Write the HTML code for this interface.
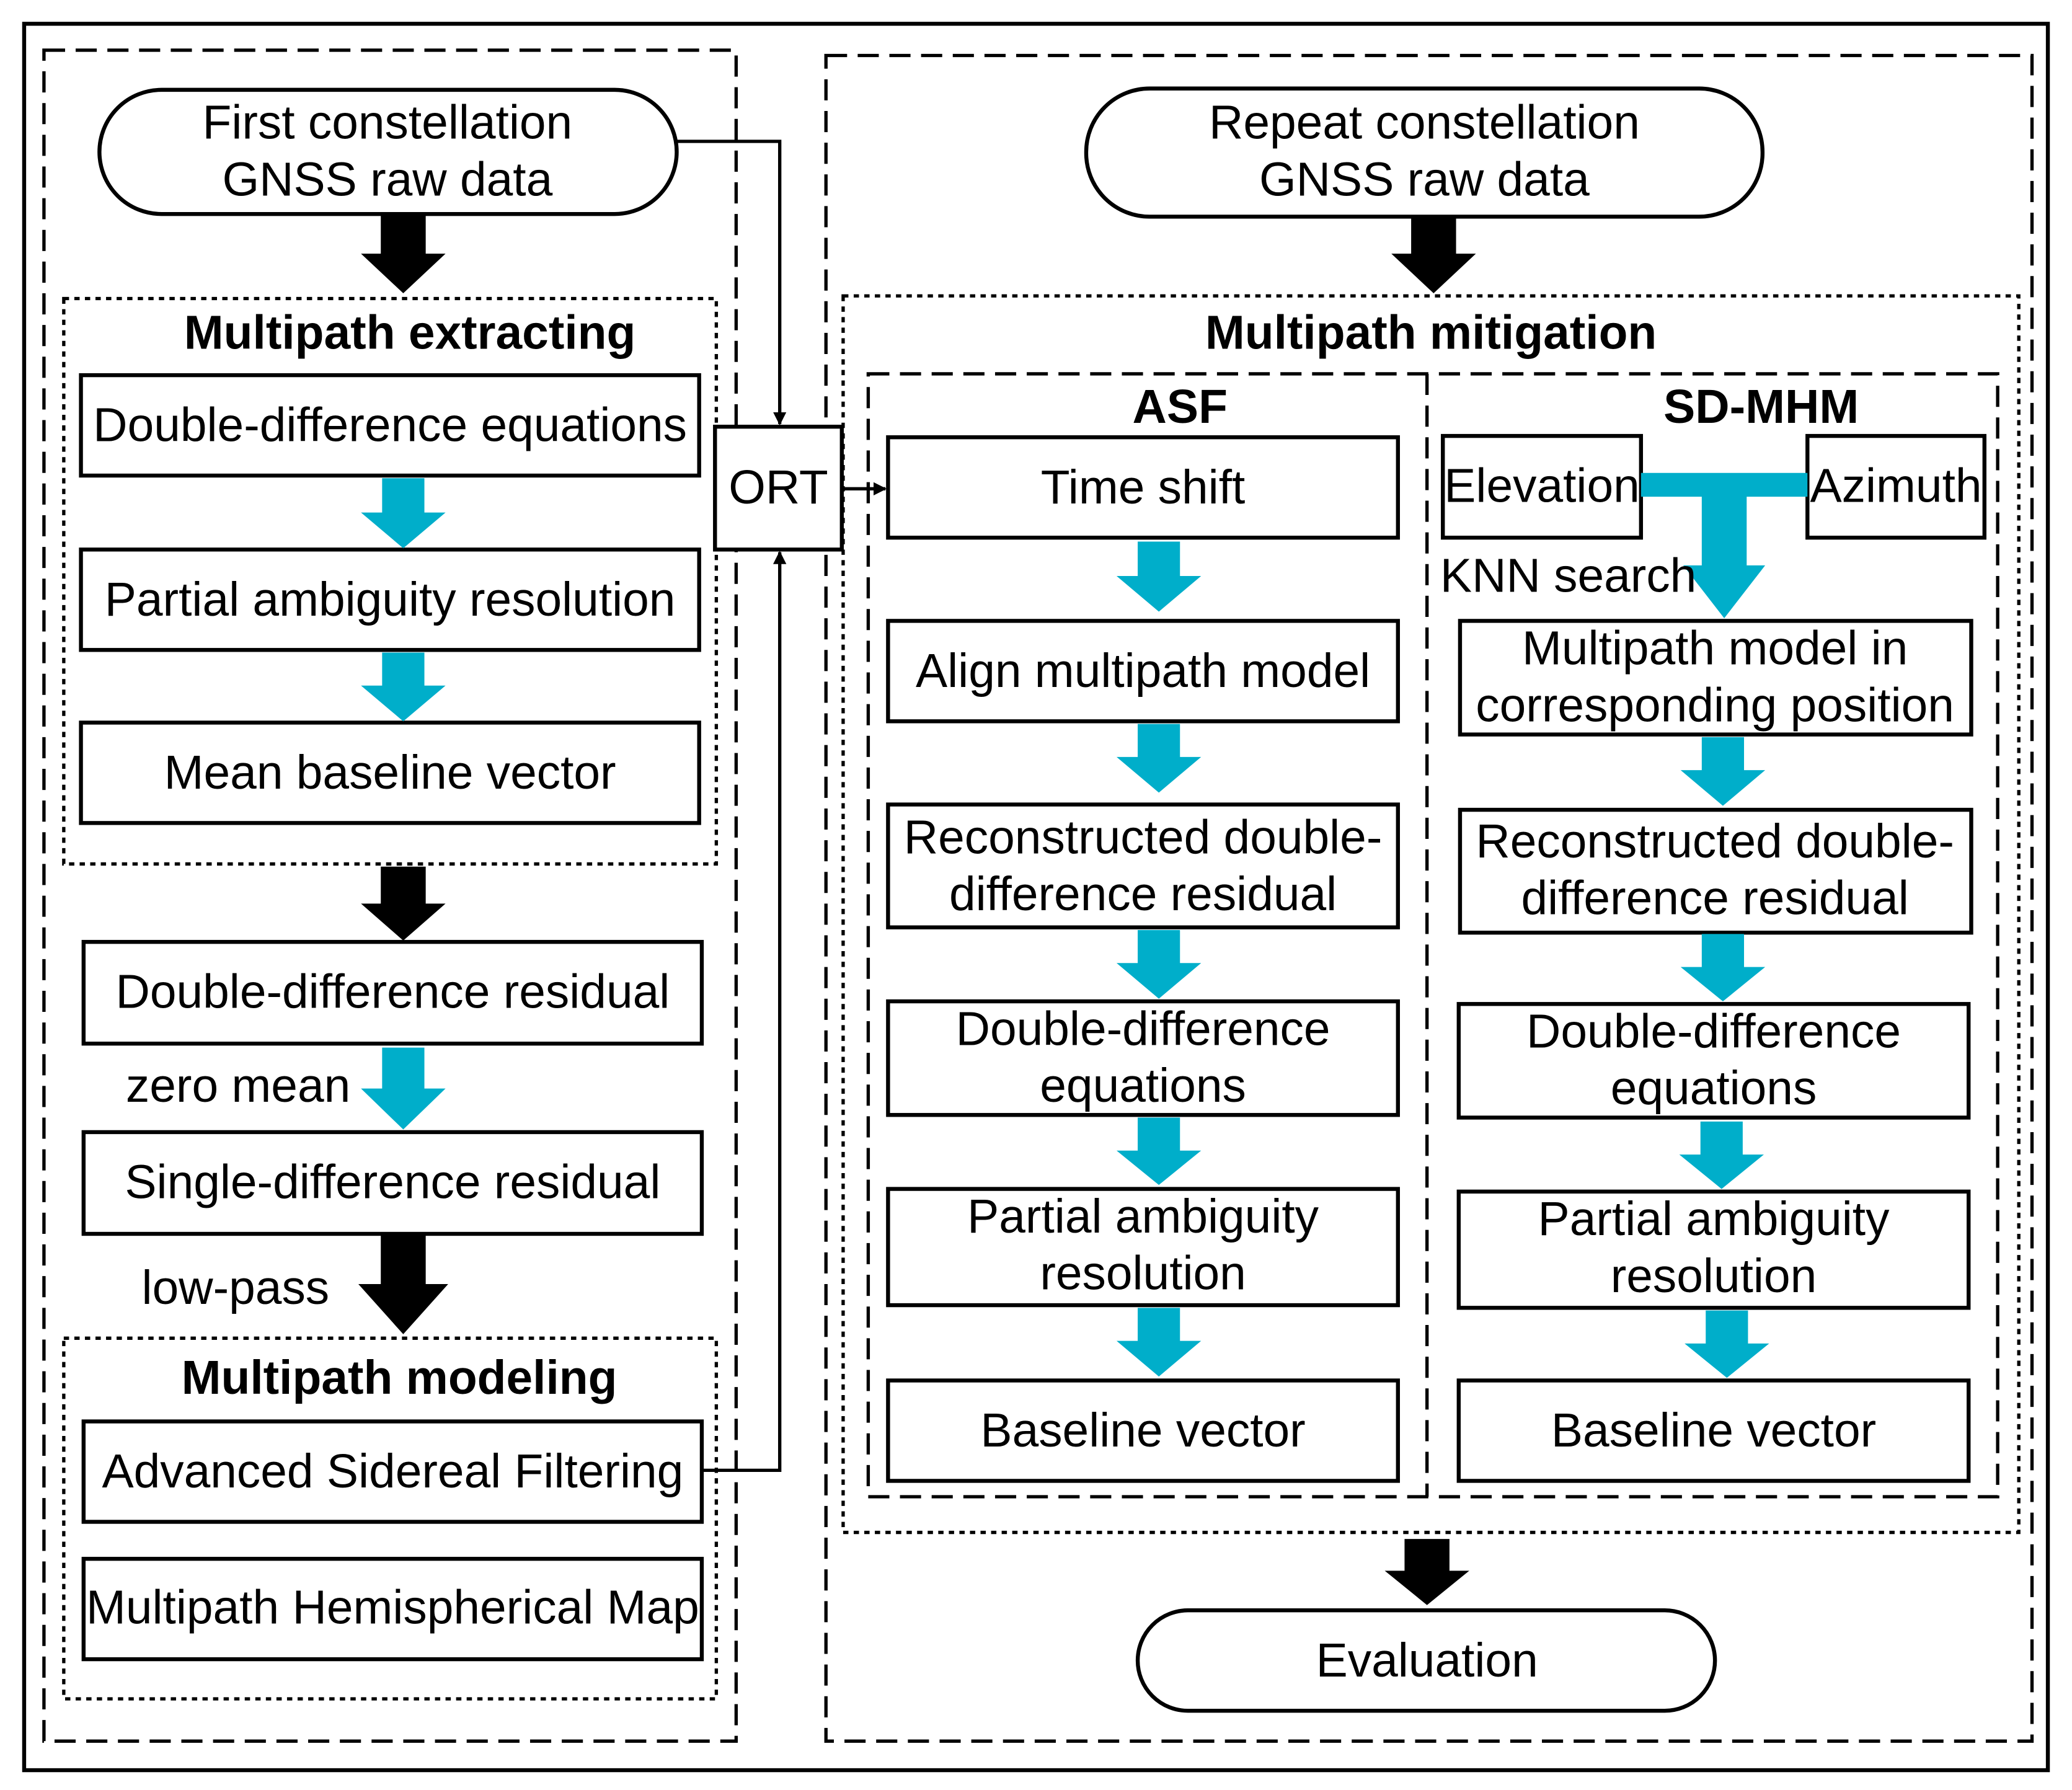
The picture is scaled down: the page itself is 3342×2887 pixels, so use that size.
<!DOCTYPE html>
<html><head><meta charset="utf-8"><style>html,body{margin:0;padding:0;background:#fff}svg{display:block}</style></head><body>
<svg width="3342" height="2887" viewBox="0 0 1568 1355" xmlns="http://www.w3.org/2000/svg" font-family="Liberation Sans, Arial, sans-serif" font-size="36">
<defs>
<marker id="ah" markerWidth="10" markerHeight="10" refX="9" refY="5" orient="auto" markerUnits="userSpaceOnUse"><path d="M0,0 L10,5 L0,10 z" fill="#000"/></marker>
</defs>
<rect x="0" y="0" width="1568" height="1355" fill="#fff"/>
<rect x="18" y="18" width="1532" height="1322" fill="none" stroke="#000" stroke-width="3"/>
<g fill="none" stroke="#000" stroke-width="2.5" stroke-dasharray="16,8">
<rect x="33" y="38" width="524" height="1280"/>
<rect x="625" y="42" width="913" height="1276"/>
<rect x="657" y="283" width="855" height="850"/>
<line x1="1080" y1="283" x2="1080" y2="1133"/>
</g>
<g fill="none" stroke="#000" stroke-width="2.5" stroke-dasharray="4,4">
<rect x="48" y="226" width="494" height="428"/>
<rect x="48" y="1013" width="494" height="273"/>
<rect x="638" y="224" width="890" height="936"/>
</g>
<g fill="#fff" stroke="#000" stroke-width="3">
<rect x="75" y="68" width="437" height="94" rx="47"/>
<rect x="822" y="67" width="512" height="97" rx="48"/>
<rect x="861" y="1219" width="437" height="76" rx="38"/>
<rect x="61" y="284" width="468" height="76"/>
<rect x="61" y="416" width="468" height="76"/>
<rect x="61" y="547" width="468" height="76"/>
<rect x="63" y="713" width="468" height="77"/>
<rect x="63" y="857" width="468" height="77"/>
<rect x="63" y="1076" width="468" height="76"/>
<rect x="63" y="1180" width="468" height="76"/>
<rect x="541" y="323" width="96" height="93"/>
<rect x="672" y="331" width="386" height="76"/>
<rect x="672" y="470" width="386" height="76"/>
<rect x="672" y="609" width="386" height="93"/>
<rect x="672" y="758" width="386" height="86"/>
<rect x="672" y="900" width="386" height="88"/>
<rect x="672" y="1045" width="386" height="76"/>
<rect x="1092" y="330" width="150" height="77"/>
<rect x="1368" y="330" width="134" height="77"/>
<rect x="1105" y="470" width="387" height="86"/>
<rect x="1105" y="613" width="387" height="93"/>
<rect x="1104" y="760" width="386" height="86"/>
<rect x="1104" y="902" width="386" height="88"/>
<rect x="1104" y="1045" width="386" height="76"/>
</g>
<g fill="none" stroke="#000" stroke-width="2.5">
<polyline points="512,107 590,107 590,321" marker-end="url(#ah)"/>
<polyline points="531,1113 590,1113 590,418" marker-end="url(#ah)"/>
<line x1="637" y1="370" x2="670" y2="370" marker-end="url(#ah)"/>
</g>
<g fill="#000">
<path d="M288,162 H322 V192 H337 L305,222 L273,192 H288 Z"/>
<path d="M1068,164 H1102 V192 H1117 L1085,222 L1053,192 H1068 Z"/>
<path d="M288,656 H322 V684 H337 L305,712 L273,684 H288 Z"/>
<path d="M288,935 H322 V972 H339 L305,1010 L271,972 H288 Z"/>
<path d="M1063,1165 H1097 V1189 H1112 L1080,1215 L1048,1189 H1063 Z"/>
</g>
<g fill="#00AECA">
<path d="M289,362 H321 V388 H337 L305,415 L273,388 H289 Z"/>
<path d="M289,494 H321 V519 H337 L305,546 L273,519 H289 Z"/>
<path d="M289,793 H321 V824 H337 L305,855 L273,824 H289 Z"/>
<path d="M861,410 H893 V436 H909 L877,463 L845,436 H861 Z"/>
<path d="M861,548 H893 V573 H909 L877,600 L845,573 H861 Z"/>
<path d="M861,704 H893 V729 H909 L877,756 L845,729 H861 Z"/>
<path d="M861,846 H893 V871 H909 L877,897 L845,871 H861 Z"/>
<path d="M861,990 H893 V1015 H909 L877,1042 L845,1015 H861 Z"/>
<path d="M1288,558 H1320 V583 H1336 L1304,610 L1272,583 H1288 Z"/>
<path d="M1288,707 H1320 V732 H1336 L1304,758 L1272,732 H1288 Z"/>
<path d="M1287,849 H1319 V874 H1335 L1303,900 L1271,874 H1287 Z"/>
<path d="M1291,992 H1323 V1017 H1339 L1307,1043 L1275,1017 H1291 Z"/>
<path d="M1242,358 H1368 V376 H1322 V428 H1336 L1305,468 L1274,428 H1288 V376 H1242 Z"/>
</g>
<g fill="#000" text-anchor="middle">
<text x="293" y="105">First constellation</text>
<text x="293" y="148">GNSS raw data</text>
<text x="1078" y="105">Repeat constellation</text>
<text x="1078" y="148">GNSS raw data</text>
<text x="1080" y="1269">Evaluation</text>
<text x="310" y="264" font-weight="bold">Multipath extracting</text>
<text x="302" y="1055" font-weight="bold">Multipath modeling</text>
<text x="1083" y="264" font-weight="bold">Multipath mitigation</text>
<text x="893" y="320" font-weight="bold">ASF</text>
<text x="1333" y="320" font-weight="bold">SD-MHM</text>
<text x="295" y="334">Double-difference equations</text>
<text x="295" y="466">Partial ambiguity resolution</text>
<text x="295" y="597">Mean baseline vector</text>
<text x="297" y="763">Double-difference residual</text>
<text x="297" y="907">Single-difference residual</text>
<text x="297" y="1126">Advanced Sidereal Filtering</text>
<text x="297" y="1229">Multipath Hemispherical Map</text>
<text x="180" y="834">zero mean</text>
<text x="178" y="987">low-pass</text>
<text x="589" y="381">ORT</text>
<text x="865" y="381">Time shift</text>
<text x="865" y="520">Align multipath model</text>
<text x="865" y="646">Reconstructed double-</text>
<text x="865" y="689">difference residual</text>
<text x="865" y="791">Double-difference</text>
<text x="865" y="834">equations</text>
<text x="865" y="933">Partial ambiguity</text>
<text x="865" y="976">resolution</text>
<text x="865" y="1095">Baseline vector</text>
<text x="1167" y="380">Elevation</text>
<text x="1435" y="380">Azimuth</text>
<text x="1187" y="448">KNN search</text>
<text x="1298" y="503">Multipath model in</text>
<text x="1298" y="546">corresponding position</text>
<text x="1298" y="649">Reconstructed double-</text>
<text x="1298" y="692">difference residual</text>
<text x="1297" y="793">Double-difference</text>
<text x="1297" y="836">equations</text>
<text x="1297" y="935">Partial ambiguity</text>
<text x="1297" y="978">resolution</text>
<text x="1297" y="1095">Baseline vector</text>
</g>
</svg>
</body></html>
